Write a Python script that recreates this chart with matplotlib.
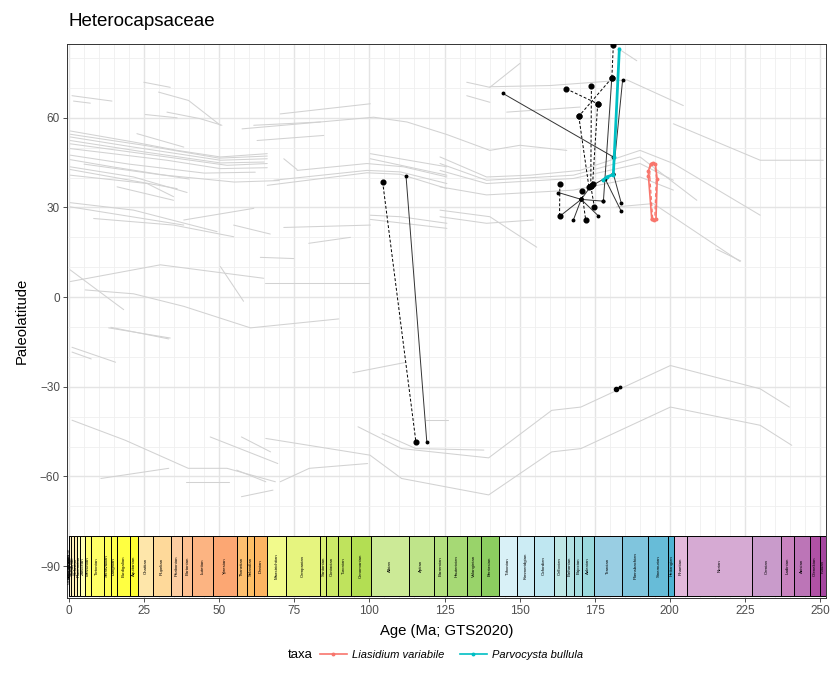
import matplotlib
matplotlib.use("Agg")
import matplotlib.pyplot as plt
from matplotlib.lines import Line2D
from matplotlib.patches import Rectangle

# ---------------- geological stages (GTS2020) ----------------
stage_names = ["Meghalayan", "Northgrippian", "Greenlandian", "Upper Pleistocene", "Chibanian",
               "Calabrian", "Gelasian", "Piacenzian", "Zanclean", "Messinian", "Tortonian",
               "Serravallian", "Langhian", "Burdigalian", "Aquitanian", "Chattian", "Rupelian",
               "Priabonian", "Bartonian", "Lutetian", "Ypresian", "Thanetian", "Selandian",
               "Danian", "Maastrichtian", "Campanian", "Santonian", "Coniacian", "Turonian",
               "Cenomanian", "Albian", "Aptian", "Barremian", "Hauterivian", "Valanginian",
               "Berriasian", "Tithonian", "Kimmeridgian", "Oxfordian", "Callovian", "Bathonian",
               "Bajocian", "Aalenian", "Toarcian", "Pliensbachian", "Sinemurian", "Hettangian",
               "Rhaetian", "Norian", "Carnian", "Ladinian", "Anisian", "Olenekian", "Induan"]
stage_min = [0.0, 0.0042, 0.0082, 0.0117, 0.129, 0.774, 1.80, 2.58, 3.60, 5.333, 7.246,
             11.63, 13.82, 15.98, 20.44, 23.03, 27.82, 33.9, 37.71, 41.03, 48.07, 56.0,
             59.24, 61.66, 66.04, 72.17, 83.65, 85.7, 89.39, 93.9, 100.5, 113.2, 121.4,
             125.77, 132.6, 137.05, 143.1, 149.2, 154.8, 161.5, 165.3, 168.2, 170.9, 174.7,
             184.2, 192.9, 199.5, 201.4, 205.7, 227.3, 237.0, 241.464, 246.7, 249.9]
stage_max = stage_min[1:] + [251.902]
stage_colors = ["#FDEDEC", "#FDECE4", "#FEECDB", "#FFF2D3", "#FFF2C7", "#FFF2BA", "#FFEDB3",
                "#FFFFBF", "#FFFFB3", "#FFFF73", "#FFFF66", "#FFFF59", "#FFFF4D", "#FFFF41",
                "#FFFF33", "#FEE6AA", "#FED99A", "#FDCDA1", "#FDC091", "#FCB482", "#FCA773",
                "#FDBF6F", "#FEBF65", "#FDB462", "#F2FA8C", "#E6F47F", "#D9EF74", "#CCE968",
                "#BFE35D", "#B3DE53", "#CCEA97", "#BFE48A", "#B3DF7F", "#A6D975", "#99D36A",
                "#8CCD60", "#D9F1F7", "#CCECF4", "#BFE7F1", "#BFE7E5", "#B3E2E3", "#A6DDE0",
                "#9AD9DD", "#99CEE3", "#80C5DD", "#67BCD8", "#4EB3D3", "#E3B9DB", "#D6AAD3",
                "#C99BCB", "#C983BF", "#BC75B7", "#B051A5", "#A4469F"]

# ---------------- grey background site tracks (age Ma, paleolat) ----------------
track01 = ([24.9, 33.7], [71.9, 70.2])
track02 = ([1.0, 14.3], [67.4, 65.6])
track03 = ([1.5, 7.1], [65.6, 64.9])
track04 = ([29.8, 39.8, 50.4], [68.6, 65.8, 57.5])
track05 = ([25.4, 36.0], [61.1, 60.0])
track06 = ([32.6, 43.7, 50.9], [61.9, 59.7, 57.5])
track07 = ([70.3, 100.3], [61.3, 64.7])
track08 = ([57.6, 77.0, 101.4, 112.5, 125.8, 140.1, 150.1, 165.7],
           [56.3, 58.0, 60.2, 58.6, 54.4, 49.1, 50.8, 49.1])
track09 = ([61.5, 83.7], [57.5, 58.6])
track10 = ([62.6, 84.8], [52.4, 54.1])
track11 = ([0.4, 21.5, 36.0, 50.4, 66.0], [55.6, 51.9, 49.1, 46.9, 48.0])
track12 = ([0.4, 21.5, 50.4, 66.0], [53.6, 50.2, 45.8, 46.3])
track13 = ([0.4, 24.9, 50.4, 65.0], [52.4, 48.6, 44.9, 45.2])
track14 = ([0.4, 32.6, 52.6, 66.0], [51.3, 46.9, 44.1, 44.7])
track15 = ([0.4, 32.6, 50.4, 66.0], [49.7, 45.8, 43.0, 43.3])
track16 = ([22.6, 38.2], [54.7, 50.2])
track17 = ([0.4, 21.5, 39.3], [43.6, 40.2, 35.0])
track18 = ([0.4, 36.0], [42.7, 36.3])
track19 = ([0.4, 26.0, 34.8], [40.8, 38.0, 33.6])
track20 = ([16.0, 34.8], [36.9, 32.4])
track21 = ([0.4, 21.5, 49.3], [31.6, 29.1, 21.9])
track22 = ([0.4, 38.2], [30.2, 24.1])
track23 = ([8.2, 34.8, 54.8], [26.3, 24.1, 20.2])
track24 = ([38.2, 61.5], [25.8, 29.7])
track25 = ([66.0, 99.2, 110.3, 125.8], [37.4, 41.6, 41.1, 36.3])
track26 = ([68.2, 99.2, 110.3, 125.8], [39.1, 42.4, 41.9, 38.0])
track27 = ([75.9, 99.2, 111.4, 125.8], [42.4, 44.7, 43.6, 40.2])
track28 = ([71.5, 75.9], [46.3, 42.7])
track29 = ([100.3, 125.8], [48.0, 43.6])
track30 = ([100.3, 125.8], [46.3, 40.8])
track31 = ([100.3, 110.3, 125.8], [27.4, 26.9, 24.7])
track32 = ([100.3, 125.8], [26.0, 23.0])
track33 = ([71.5, 100.3], [23.3, 24.1])
track34 = ([79.8, 93.7], [18.0, 20.0])
track35 = ([54.8, 67.0], [24.1, 21.1])
track36 = ([65.4, 99.8], [4.7, 4.7])
track37 = ([63.7, 74.8], [13.3, 12.9])
track38 = ([0.4, 30.4, 64.8], [5.2, 10.8, 6.3])
track39 = ([0.4, 18.2], [9.1, -4.2])
track40 = ([50.4, 58.1], [10.2, -1.4])
track41 = ([5.4, 21.5, 38.2, 60.4, 89.8], [2.4, 1.1, -3.1, -10.3, -7.3])
track42 = ([13.2, 33.7], [-10.3, -13.7])
track43 = ([13.9, 33.2], [-10.1, -14.0])
track44 = ([1.0, 15.5], [-16.8, -21.8])
track45 = ([1.0, 7.4], [-18.4, -20.7])
track46 = ([94.5, 112.3], [-25.3, -21.8])
track47 = ([1.0, 18.7, 39.7, 52.6, 68.7], [-41.2, -47.9, -57.3, -57.3, -61.8])
track48 = ([10.6, 33.2], [-60.7, -57.3])
track49 = ([47.0, 69.5], [-46.8, -55.7])
track50 = ([57.4, 67.1], [-46.8, -51.8])
track51 = ([38.9, 53.4], [-61.8, -61.8])
track52 = ([55.8, 65.5], [-57.9, -61.8])
track53 = ([57.4, 67.9], [-66.8, -64.6])
track54 = ([70.3, 80.0, 99.4], [-61.8, -57.3, -55.7])
track55 = ([65.5, 100.2, 110.7, 139.7, 160.7, 170.4, 200.2, 230.1, 240.6],
           [-47.3, -52.9, -60.7, -66.2, -51.8, -50.7, -36.8, -42.9, -49.6])
track56 = ([96.2, 110.7, 139.7, 160.7, 170.4, 200.2, 230.1, 239.8],
           [-43.4, -50.7, -53.8, -37.9, -36.8, -22.9, -30.7, -36.8])
track57 = ([104.2, 115.5, 138.1], [-45.7, -50.7, -51.2])
track58 = ([118.7, 126.0], [-41.2, -41.2])
track59 = ([215.6, 223.6], [16.0, 12.1])
track60 = ([184.0, 189.0], [82.4, 79.1])
track61 = ([132.4, 140.1, 150.1], [71.9, 70.2, 78.2])
track62 = ([132.4, 140.1], [67.4, 65.2])
track63 = ([140.1, 160.1, 185.7, 204.5], [70.4, 70.8, 72.7, 64.1])
track64 = ([145.7, 170.1], [61.9, 63.6])
track65 = ([201.2, 230.1, 251.1], [58.0, 45.8, 45.8])
track66 = ([123.5, 139.0, 153.5, 170.1, 190.1, 201.2, 230.1],
           [46.9, 40.2, 40.8, 42.4, 49.1, 44.7, 27.4])
track67 = ([123.5, 139.0, 167.9, 190.1, 209.0], [44.7, 39.1, 40.8, 46.9, 32.4])
track68 = ([123.5, 139.0, 167.9, 190.1, 201.2], [42.4, 38.0, 39.7, 44.7, 39.1])
track69 = ([123.5, 139.0, 167.9, 190.1, 201.2], [36.9, 34.2, 35.8, 40.2, 35.8])
track70 = ([182.3, 194.5, 223.4], [30.2, 31.3, 11.9])
track71 = ([123.5, 140.1, 155.7], [29.1, 26.9, 16.7])
track72 = ([123.5, 139.0, 154.6], [26.9, 24.7, 25.8])
track73 = ([0.4, 20.0, 45.0, 62.0], [47.5, 44.5, 41.5, 41.8])
track74 = ([0.4, 15.0, 40.0], [46.0, 43.5, 39.5])
track75 = ([5.0, 30.0, 55.0, 70.0], [44.5, 41.0, 38.5, 39.0])
track76 = ([0.4, 25.0, 50.0, 66.0], [54.5, 50.8, 46.5, 47.2])

tracks = [track01, track02, track03, track04, track05, track06, track07, track08, track09,
          track10, track11, track12, track13, track14, track15, track16, track17, track18,
          track19, track20, track21, track22, track23, track24, track25, track26, track27,
          track28, track29, track30, track31, track32, track33, track34, track35, track36,
          track37, track38, track39, track40, track41, track42, track43, track44, track45,
          track46, track47, track48, track49, track50, track51, track52, track53, track54,
          track55, track56, track57, track58, track59, track60, track61, track62, track63,
          track64, track65, track66, track67, track68, track69, track70, track71, track72,
          track73, track74, track75, track76]

# ---------------- black occurrence links ----------------
# dashed links (large points)
dashed_ages = [[181.2, 180.7], [180.7, 169.7], [165.5, 176.0], [173.9, 173.7], [176.0, 174.3],
               [169.7, 173.1], [163.4, 163.3], [170.7, 172.0], [104.4, 115.5], [173.7, 174.9]]
dashed_lats = [[84.2, 73.3], [73.3, 60.5], [69.7, 64.7], [70.6, 37.3], [64.7, 37.8],
               [60.5, 36.7], [37.9, 27.0], [35.4, 25.8], [38.6, -48.6], [37.1, 30.2]]
# solid links (small points)
solid_ages = [[144.4, 181.2], [180.7, 177.9], [184.3, 181.2], [162.9, 170.5], [170.5, 163.3],
              [170.5, 176.2], [170.5, 177.9], [170.5, 173.7], [178.5, 183.8], [181.2, 183.8],
              [112.2, 119.1], [170.5, 167.9], [173.7, 181.2], [182.2, 183.4]]
solid_lats = [[68.2, 46.9], [73.3, 32.1], [72.7, 41.3], [35.0, 32.7], [32.7, 27.0],
              [32.7, 27.2], [32.7, 32.1], [32.7, 37.1], [39.5, 28.8], [41.3, 31.6],
              [40.4, -48.4], [32.7, 25.8], [37.1, 41.3], [-30.7, -30.1]]
# isolated large point
lone_age = [182.2]
lone_lat = [-30.7]

# ---------------- highlighted taxa ----------------
liasidium_ages = [194.0, 192.9, 192.9, 193.6, 194.3, 195.2, 195.8, 195.4, 194.9, 194.0]
liasidium_lats = [26.0, 40.4, 42.2, 44.6, 45.0, 44.6, 39.4, 26.2, 25.8, 26.0]
liasidium_ages2 = [194.3, 193.4, 193.3, 194.0, 195.0, 195.5, 195.0]
liasidium_lats2 = [26.3, 39.5, 43.0, 44.8, 44.2, 40.0, 26.3]
parvocysta_ages = [183.2, 181.5, 181.2, 179.0, 177.8]
parvocysta_lats = [83.0, 47.0, 41.0, 40.2, 39.2]

legend_labels = ["Liasidium variabile", "Parvocysta bullula"]
legend_colors = ["#F8766D", "#00BFC4"]

# ---------------- figure ----------------
plt.rcParams['font.family'] = ['Liberation Sans', 'DejaVu Sans']
fig = plt.figure(figsize=(8.32, 6.91), dpi=100)
ax = fig.add_axes([67 / 832, (691 - 598) / 691, (826 - 67) / 832, (598 - 44) / 691])

ax.set_xlim(-0.67, 252.0)
ax.set_ylim(-100.7, 84.7)

# grid
for xv in range(0, 255, 5):
    major = (xv % 25 == 0)
    ax.axvline(xv, color="#E4E4E4" if major else "#EFEFEF", lw=1.0 if major else 0.6, zorder=0)
for yv in range(-100, 90, 10):
    major = (yv % 30 == 0)
    ax.axhline(yv, color="#E4E4E4" if major else "#EFEFEF", lw=1.0 if major else 0.6, zorder=0)

# grey tracks
for ages, lats in tracks:
    ax.plot(ages, lats, color="#D2D2D2", lw=0.75, zorder=1, solid_capstyle="round")

# black links
for a, l in zip(dashed_ages, dashed_lats):
    ax.plot(a, l, color="black", lw=0.7, ls=(0, (3, 2)), zorder=3)
    ax.plot(a, l, ls="none", marker="o", ms=3.4, color="black", zorder=4)
for a, l in zip(solid_ages, solid_lats):
    ax.plot(a, l, color="#333333", lw=0.7, zorder=3)
    ax.plot(a, l, ls="none", marker="o", ms=1.8, color="black", zorder=4)
ax.plot(lone_age, lone_lat, ls="none", marker="o", ms=3.0, color="black", zorder=4)

# highlighted taxa
ax.plot(liasidium_ages, liasidium_lats, color=legend_colors[0], lw=1.2, marker="o", ms=1.8, zorder=5)
ax.plot(liasidium_ages2, liasidium_lats2, color=legend_colors[0], lw=0.9, ls=(0, (3, 2)), zorder=5)
ax.plot(parvocysta_ages, parvocysta_lats, color=legend_colors[1], lw=2.0, marker="o", ms=1.8, zorder=5)

# time scale bar
for nm, lo, hi, col in zip(stage_names, stage_min, stage_max, stage_colors):
    ax.add_patch(Rectangle((lo, -100.0), hi - lo, 20.0, facecolor=col, edgecolor="black",
                           lw=0.7, zorder=6))
    ax.text((lo + hi) / 2, -90, nm, rotation=90, ha="center", va="center",
            fontsize=3.2, color="black", zorder=7, clip_on=True)

# axes styling
ax.set_xticks(list(range(0, 251, 25)))
ax.set_yticks([-90, -60, -30, 0, 30, 60])
ax.set_yticklabels(["\u221290", "\u221260", "\u221230", "0", "30", "60"])
ax.tick_params(axis="both", length=3, width=0.6, color="#333333", labelsize=8.5,
               labelcolor="#4D4D4D", pad=2)
for s in ax.spines.values():
    s.set_color("#333333")
    s.set_linewidth(0.7)

ax.set_xlabel("Age (Ma; GTS2020)", fontsize=10.7, labelpad=5)
ax.set_ylabel("Paleolatitude", fontsize=10.7, labelpad=8)
fig.text(69 / 832, 1 - 21 / 691, "Heterocapsaceae", fontsize=13.5, va="center", ha="left")

# legend
handles = [Line2D([0], [0], color=c, lw=1.2, marker="o", ms=1.8) for c in legend_colors]
fig.text(288 / 832, 1 - 655 / 691, "taxa", fontsize=9.5, va="center", ha="left")
leg = fig.legend(handles, legend_labels, loc="center left", bbox_to_anchor=(310 / 832, 1 - 655 / 691),
                 ncol=2, frameon=False, prop={"style": "italic", "size": 8.0},
                 handlelength=2.4, columnspacing=1.4, handletextpad=0.5)

fig.savefig("out.png", dpi=100)
